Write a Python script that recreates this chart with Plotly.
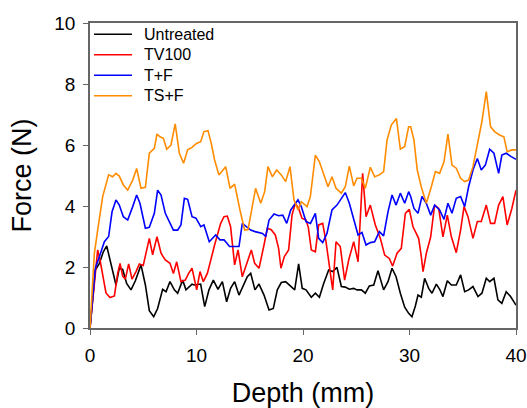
import plotly.graph_objects as go

# Force-depth profiles for the four treatments
depth_untreated = [0, 0.5, 0.88, 1.25, 1.57, 1.88, 2.44, 2.75, 3.07, 3.44, 3.85, 4.26, 4.79, 5.2, 5.57,
                   5.98, 6.35, 6.82, 7.14, 7.51, 7.92, 8.23, 8.7, 9.01, 9.58, 9.77, 10.39, 10.77, 11.17,
                   11.58, 12.02, 12.43, 12.83, 13.2, 13.58, 13.99, 14.4, 14.77, 15.09, 15.49, 15.87,
                   16.34, 16.81, 17.21, 17.59, 17.96, 18.37, 18.84, 19.22, 19.59, 19.93, 20.28, 20.78,
                   21.16, 21.54, 21.94, 22.41, 22.79, 23.19, 23.6, 23.97, 24.35, 24.76, 25.07, 25.48,
                   25.85, 26.23, 26.64, 27.04, 27.57, 27.98, 28.36, 28.74, 29.14, 29.55, 29.92, 30.23,
                   30.55, 30.8, 31.11, 31.42, 31.8, 32.11, 32.52, 32.83, 33.14, 33.55, 33.93, 34.39,
                   34.8, 35.18, 35.55, 35.96, 36.43, 36.8, 37.21, 37.53, 37.93, 38.3, 38.67, 39.08,
                   39.49, 40.0]
force_untreated = [0, 1.9, 2.12, 2.5, 2.69, 2.23, 1.41, 1.96, 1.92, 1.46, 1.25, 1.55, 2.07, 1.41, 0.57,
                   0.37, 0.64, 1.27, 1.19, 1.52, 1.25, 1.14, 1.57, 1.25, 1.44, 1.41, 1.44, 0.70, 1.25,
                   1.57, 1.27, 1.52, 0.86, 1.30, 1.52, 1.08, 1.41, 1.68, 1.79, 1.25, 1.44,
                   1.08, 0.59, 0.64, 1.25, 1.49, 1.52, 1.36, 1.25, 2.10, 1.30, 1.25, 1.01,
                   1.14, 1.01, 1.46, 1.90, 1.85, 1.99, 1.36, 1.34, 1.27, 1.30, 1.25, 1.25,
                   1.14, 1.38, 1.41, 1.88, 1.25, 1.52, 1.96, 1.68, 1.14, 0.68, 0.48, 0.37,
                   0.72, 1.08, 1.01, 1.63, 1.30, 1.14, 1.44, 1.27, 1.03, 1.55, 1.41, 1.41,
                   1.74, 1.19, 1.25, 1.36, 1.03, 1.14, 1.63, 1.52, 1.63, 0.92, 0.81, 1.19,
                   1.03, 0.75]

depth_tv100 = [0, 0.5, 0.72, 0.94, 1.25, 1.5, 1.88, 2.29, 2.6, 2.82, 3.07, 3.32, 3.63, 3.94, 4.32,
               4.63, 5.0, 5.32, 5.57, 5.88, 6.29, 6.67, 7.07, 7.51, 7.83, 8.14, 8.54, 8.95, 9.26,
               9.58, 9.8, 10.02, 10.33, 10.64, 11.02, 11.39, 11.7, 12.27, 12.58, 12.89, 13.2, 13.58,
               13.9, 14.3, 14.77, 15.15, 15.46, 15.87, 16.34, 16.65, 17.02, 17.4, 17.71, 17.93,
               18.25, 18.65, 18.97, 19.28, 19.59, 19.9, 20.28, 20.5, 20.78, 21.16, 21.47, 21.85,
               22.16, 22.47, 22.79, 23.1, 23.5, 23.91, 24.29, 24.76, 25.17, 25.6, 25.92, 26.32,
               26.79, 27.26, 27.67, 28.1, 28.42, 28.83, 29.23, 29.61, 29.98, 30.33, 30.64, 30.86,
               31.11, 31.27, 31.58, 31.99, 32.36, 32.74, 33.14, 33.55, 33.93, 34.39, 34.8, 35.12,
               35.49, 35.96, 36.37, 36.74, 37.21, 37.61, 37.99, 38.37, 38.77, 39.17, 39.61, 40.0]
force_tv100 = [0, 1.9, 2.56, 2.23, 1.6, 1.15, 1.0, 1.05, 1.79, 2.12, 1.7, 1.6, 2.1, 1.6, 1.85,
               2.1, 2.05, 2.56, 2.94, 2.4, 2.99, 2.45, 2.23, 2.12, 1.79, 2.17, 1.52, 1.57, 1.79,
               1.96, 1.6, 1.25, 1.85, 1.52, 1.79, 2.34, 2.72, 3.43, 3.65, 3.67, 3.32, 2.07,
               2.56, 1.68, 2.17, 2.56, 2.12, 1.96, 2.72, 3.27, 3.22, 3.05, 2.61, 1.96,
               2.34, 2.56, 3.7, 4.09, 3.92, 3.6, 3.54, 3.3, 2.56, 2.5, 3.38, 3.43,
               2.83, 2.12, 1.25, 2.83, 2.67, 1.57, 2.23, 2.83, 2.17, 5.07, 3.65, 4.03,
               3.38, 2.94, 2.39, 2.28, 2.03, 2.45, 2.61, 3.76, 3.89, 3.32, 3.1, 2.94,
               2.34, 1.85, 2.45, 2.99, 4.03, 3.92, 2.99, 3.7, 2.99, 2.47, 3.21, 3.98,
               3.65, 2.94, 3.49, 3.49, 4.03, 3.43, 3.43, 4.03, 4.31, 3.38, 3.92, 4.52]

depth_tf = [0, 0.5, 0.88, 1.35, 1.75, 2.07, 2.44, 2.75, 3.13, 3.54, 4.01, 4.38, 4.69, 5.2, 5.57,
            6.04, 6.35, 6.67, 7.07, 7.51, 7.83, 8.23, 8.54, 8.86, 9.17, 9.58, 9.95, 10.4, 10.7,
            11.2, 11.5, 11.8, 12.2, 12.58, 12.8, 13.1, 13.58, 13.99, 14.3, 14.7, 15.09, 15.5,
            15.87, 16.2, 16.5, 16.81, 17.28, 17.71, 18.1, 18.47, 18.85, 19.15, 19.53, 19.84,
            20.28, 20.7, 21.16, 21.47, 21.85, 22.25, 22.72, 23.19, 23.6, 23.97, 24.35, 24.76,
            25.17, 25.54, 25.92, 26.32, 26.73, 27.17, 27.57, 27.98, 28.36, 28.74, 29.14, 29.55,
            29.92, 30.11, 30.42, 30.8, 31.17, 31.58, 31.99, 32.36, 32.83, 33.24, 33.61, 33.99,
            34.39, 34.8, 35.18, 35.55, 35.96, 36.37, 36.74, 37.12, 37.53, 37.93, 38.37, 38.67,
            39.08, 39.55, 40.0]
force_tf = [0, 1.96, 2.34, 2.83, 3.0, 3.81, 4.2, 4.03, 3.65, 3.54, 3.98, 4.36, 4.09, 3.27, 3.30,
            3.76, 4.52, 4.36, 3.76, 3.43, 3.21, 3.21, 3.38, 4.25, 4.22, 3.65, 3.6, 3.32, 3.38,
            2.83, 2.95, 3.05, 2.89, 2.89, 2.8, 2.67, 2.67, 2.67, 3.43, 3.32, 3.21, 3.16,
            3.13, 3.1, 3.0, 3.54, 3.74, 3.68, 3.7, 3.43, 3.87, 4.03, 4.2, 3.98,
            3.49, 3.43, 3.76, 2.94, 2.80, 3.1, 3.87, 4.03, 4.25, 4.44, 4.09, 3.56,
            3.05, 3.13, 2.72, 2.80, 2.83, 3.16, 3.02, 3.81, 4.36, 4.03, 4.42, 4.09,
            4.47, 4.31, 3.92, 3.76, 4.31, 4.09, 3.7, 4.03, 3.87, 3.56, 4.09, 3.76,
            4.25, 4.31, 3.98, 4.63, 5.18, 5.56, 5.18, 5.34, 5.86, 5.73, 5.07, 5.67,
            5.73, 5.62, 5.53]

depth_tsf = [0, 0.41, 0.72, 1.19, 1.75, 2.13, 2.44, 2.75, 3.13, 3.54, 4.01, 4.38, 4.79, 5.2, 5.57,
             6.04, 6.29, 6.57, 6.89, 7.2, 7.6, 8.0, 8.39, 8.79, 9.17, 9.58, 10.0, 10.39, 10.7,
             11.08, 11.39, 11.7, 12.1, 12.74, 13.15, 13.58, 14.08, 14.52, 14.84, 15.15, 15.55,
             16.03, 16.4, 16.71, 17.12, 17.53, 17.96, 18.37, 18.78, 19.15, 19.53, 19.84, 20.38,
             20.69, 21.16, 21.54, 21.94, 22.35, 22.72, 23.1, 23.6, 23.97, 24.35, 24.76, 25.07,
             25.48, 25.85, 26.32, 26.73, 27.17, 27.57, 27.89, 28.3, 28.77, 29.14, 29.55, 29.92,
             30.11, 30.42, 30.73, 31.1, 31.58, 32.05, 32.43, 32.83, 33.24, 33.61, 33.99, 34.39,
             34.8, 35.18, 35.55, 35.96, 36.43, 36.8, 37.21, 37.61, 37.99, 38.45, 38.86, 39.17,
             39.61, 40.0]
force_tsf = [0, 2.45, 3.21, 4.31, 5.02, 4.96, 5.07, 4.98, 4.69, 4.52, 4.85, 5.23, 4.58, 4.61, 5.73,
             5.89, 6.36, 6.27, 6.22, 5.86, 6.0, 6.69, 5.73, 5.40, 5.84, 5.92, 6.05, 6.11, 6.44,
             6.47, 6.05, 5.51, 5.02, 5.29, 4.58, 4.72, 3.87, 3.21, 3.23, 3.81, 4.58,
             4.09, 4.47, 5.29, 4.96, 5.18, 5.02, 4.80, 5.29, 4.2, 3.87, 4.14, 3.98,
             4.31, 5.67, 5.45, 5.02, 4.63, 4.96, 4.58, 4.42, 4.63, 5.31, 4.66, 4.91,
             4.91, 4.58, 5.27, 4.96, 5.02, 5.13, 6.16, 6.66, 6.87, 5.86, 5.95, 6.6,
             6.6, 6.16, 5.18, 4.63, 4.09, 4.63, 5.13, 5.07, 5.45, 6.36, 5.34, 5.24,
             4.91, 4.8, 4.85, 5.29, 6.11, 6.77, 7.75, 6.6, 6.44, 6.33, 6.27, 5.78,
             5.84, 5.84]

series_names = ["Untreated", "TV100", "T+F", "TS+F"]
series_colors = ["#000000", "#FF0000", "#0000FF", "#FF8C00"]
series_depths = [depth_untreated, depth_tv100, depth_tf, depth_tsf]
series_forces = [force_untreated, force_tv100, force_tf, force_tsf]

x_ticks = [0, 10, 20, 30, 40]
y_ticks = [0, 2, 4, 6, 8, 10]

FONT = "Liberation Sans, Arial, sans-serif"

fig = go.Figure()
for name, color, xs, ys in zip(series_names, series_colors, series_depths, series_forces):
    fig.add_trace(go.Scatter(x=xs, y=ys, mode="lines", name=name,
                             line=dict(color=color, width=1.6), showlegend=False))

# Legend block in the upper-left corner of the plot area
plot_left, plot_width = 90, 426
plot_bottom, plot_height = 328, 305
legend_rows_px = [34.3, 54.8, 75.3, 95.8]
for name, color, row in zip(series_names, series_colors, legend_rows_px):
    yp = (plot_bottom - row) / plot_height
    fig.add_shape(type="line", xref="paper", yref="paper",
                  x0=(94 - plot_left) / plot_width, x1=(132 - plot_left) / plot_width,
                  y0=yp, y1=yp, line=dict(color=color, width=1.6))
    fig.add_annotation(xref="paper", yref="paper", x=(142 - plot_left) / plot_width, y=yp,
                       text=name, showarrow=False, xanchor="left", yanchor="middle",
                       font=dict(family=FONT, size=16, color="#000000"))

axis_common = dict(showline=True, linecolor="#666666", linewidth=1.5, mirror=True,
                   ticks="outside", ticklen=5, tickwidth=1, tickcolor="#666666",
                   showgrid=False, zeroline=False, automargin=False,
                   tickfont=dict(family=FONT, size=19, color="#000000"))

fig.update_layout(
    width=527, height=408,
    margin=dict(l=90, r=11, t=23, b=80),
    paper_bgcolor="white", plot_bgcolor="white",
    font=dict(family=FONT, color="#000000"),
    xaxis=dict(range=[0, 40], tickvals=x_ticks, ticklabelstandoff=4,
               title=dict(text="Depth (mm)", font=dict(family=FONT, size=27), standoff=29),
               **axis_common),
    yaxis=dict(range=[0, 10], tickvals=y_ticks, ticklabelstandoff=4,
               title=dict(text="Force (N)", font=dict(family=FONT, size=27), standoff=15),
               **axis_common),
)

fig.write_html("out.html")
